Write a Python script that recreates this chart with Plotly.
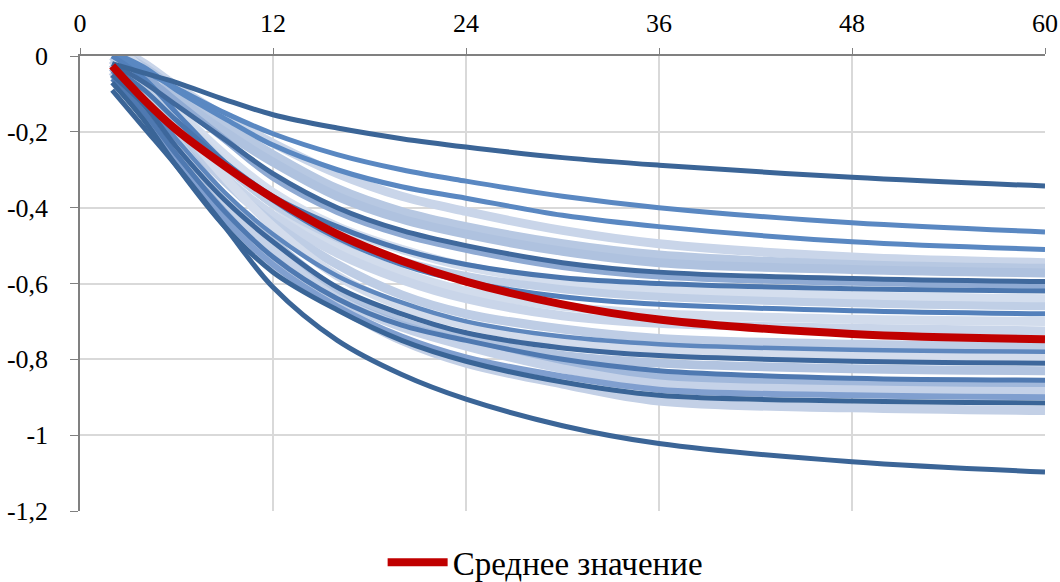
import plotly.graph_objects as go

# months
months = [2, 4, 6, 9, 12, 16, 20, 24, 30, 36, 48, 60]

# individual series
s01 = [-0.02, -0.045, -0.07, -0.115, -0.155, -0.19, -0.218, -0.24, -0.268, -0.288, -0.32, -0.343]
s02 = [0.0, -0.04, -0.085, -0.15, -0.205, -0.26, -0.30, -0.33, -0.37, -0.40, -0.44, -0.464]
s03 = [0.01, -0.03, -0.09, -0.165, -0.235, -0.30, -0.345, -0.375, -0.42, -0.45, -0.49, -0.51]
s04 = [0.03, -0.02, -0.08, -0.16, -0.23, -0.31, -0.37, -0.41, -0.46, -0.495, -0.53, -0.545]
s05 = [0.02, -0.03, -0.09, -0.18, -0.26, -0.35, -0.41, -0.45, -0.495, -0.525, -0.55, -0.56]
s06 = [0.0, -0.05, -0.11, -0.20, -0.28, -0.37, -0.43, -0.47, -0.515, -0.545, -0.563, -0.572]
s07 = [-0.02, -0.07, -0.13, -0.22, -0.31, -0.40, -0.46, -0.50, -0.545, -0.57, -0.587, -0.595]
s08 = [0.01, -0.05, -0.12, -0.22, -0.32, -0.41, -0.47, -0.51, -0.555, -0.58, -0.597, -0.605]
s09 = [-0.03, -0.09, -0.17, -0.28, -0.37, -0.45, -0.51, -0.55, -0.585, -0.60, -0.614, -0.62]
s10 = [0.02, -0.05, -0.14, -0.26, -0.36, -0.45, -0.51, -0.555, -0.595, -0.615, -0.632, -0.64]
s11 = [-0.01, -0.08, -0.17, -0.29, -0.39, -0.48, -0.54, -0.58, -0.615, -0.635, -0.652, -0.66]
s12 = [0.0, -0.06, -0.15, -0.28, -0.38, -0.48, -0.55, -0.595, -0.635, -0.655, -0.672, -0.68]
s13 = [0.03, -0.04, -0.14, -0.28, -0.39, -0.50, -0.57, -0.62, -0.66, -0.68, -0.694, -0.70]
s14 = [-0.01, -0.09, -0.19, -0.32, -0.42, -0.52, -0.59, -0.64, -0.685, -0.705, -0.718, -0.725]
s15 = [0.0, -0.08, -0.19, -0.33, -0.44, -0.55, -0.63, -0.68, -0.72, -0.745, -0.76, -0.765]
s16 = [-0.04, -0.12, -0.22, -0.36, -0.47, -0.58, -0.65, -0.70, -0.74, -0.76, -0.775, -0.78]
s17 = [-0.05, -0.13, -0.24, -0.38, -0.49, -0.61, -0.68, -0.73, -0.77, -0.79, -0.805, -0.81]
s18 = [0.02, -0.06, -0.17, -0.32, -0.45, -0.58, -0.66, -0.71, -0.755, -0.775, -0.79, -0.795]
s19 = [-0.02, -0.11, -0.22, -0.37, -0.49, -0.62, -0.70, -0.745, -0.79, -0.81, -0.825, -0.83]
s20 = [-0.06, -0.15, -0.26, -0.41, -0.53, -0.64, -0.71, -0.75, -0.80, -0.83, -0.85, -0.855]
s21 = [-0.03, -0.12, -0.24, -0.40, -0.52, -0.64, -0.71, -0.755, -0.81, -0.845, -0.862, -0.868]
s22 = [-0.01, -0.10, -0.22, -0.38, -0.51, -0.64, -0.715, -0.765, -0.825, -0.865, -0.88, -0.885]
s23 = [-0.05, -0.15, -0.27, -0.43, -0.55, -0.66, -0.74, -0.795, -0.845, -0.88, -0.895, -0.90]
s24 = [-0.07, -0.17, -0.29, -0.45, -0.57, -0.67, -0.75, -0.805, -0.86, -0.895, -0.91, -0.915]
s25 = [-0.04, -0.14, -0.26, -0.42, -0.55, -0.66, -0.75, -0.81, -0.865, -0.91, -0.928, -0.935]
s26 = [-0.09, -0.19, -0.29, -0.45, -0.61, -0.75, -0.84, -0.905, -0.975, -1.022, -1.07, -1.097]

mean_values = [-0.026, -0.116, -0.195, -0.29, -0.375, -0.47, -0.54, -0.595, -0.655, -0.695, -0.733, -0.747]
mean_name = "Среднее значение"

x_ticks = [0, 12, 24, 36, 48, 60]
y_ticks = [0, -0.2, -0.4, -0.6, -0.8, -1.0, -1.2]
y_ticklabels = ["0", "-0,2", "-0,4", "-0,6", "-0,8", "-1", "-1,2"]

# drawing order, colour and width per series (style only)
styles = [
    (s04, "#C9D5E9", 9), (s05, "#B7C8E2", 9), (s06, "#AFC2DF", 9),
    (s10, "#D4DEEE", 9), (s13, "#D2DCEC", 9), (s14, "#C9D5E9", 9),
    (s15, "#BECDE5", 9), (s18, "#D3DCEC", 9), (s19, "#B2C4E0", 9),
    (s21, "#A1B8DB", 9), (s22, "#C5D2E8", 9), (s25, "#C3D0E6", 9),
    (s08, "#8FAAD3", 7), (s11, "#C0CFE6", 8), (s23, "#809FCF", 6),
    (s02, "#5A88C2", 5), (s03, "#5A88C2", 5), (s12, "#5380BB", 5),
    (s16, "#5E87BE", 4.5), (s09, "#4B76AE", 5), (s20, "#4F79B1", 5),
    (s07, "#40699D", 5), (s17, "#3D679C", 5), (s24, "#3A6597", 5),
    (s01, "#3B6597", 5), (s26, "#3B6597", 5),
]

fig = go.Figure()
for vals, col, w in styles:
    fig.add_trace(go.Scatter(
        x=months, y=vals, mode="lines",
        line=dict(color=col, width=w, shape="spline", smoothing=1.0),
        showlegend=False, hoverinfo="skip",
    ))

fig.add_trace(go.Scatter(
    x=months, y=mean_values, mode="lines", name=mean_name,
    line=dict(color="#C00000", width=8, shape="spline", smoothing=1.0),
))

font_family = "Liberation Serif"
fig.update_layout(
    width=1060, height=582,
    margin=dict(l=80, r=15, t=56, b=71, autoexpand=False),
    paper_bgcolor="white", plot_bgcolor="white",
    font=dict(family=font_family, size=26, color="black"),
    showlegend=True,
    legend=dict(orientation="h", x=0.482, xanchor="center", y=-0.113, yanchor="middle",
                itemwidth=60, font=dict(size=33, family=font_family, color="black")),
    xaxis=dict(side="top", range=[0, 60], tickvals=x_ticks, showgrid=True,
               gridcolor="#D9D9D9", gridwidth=1.5, showline=True, linecolor="#808080",
               linewidth=1.5, ticks="outside", ticklen=6, tickcolor="#808080",
               zeroline=False, ticklabelstandoff=6, automargin=False,
               tickfont=dict(size=26, family=font_family, color="black")),
    yaxis=dict(range=[-1.2, 0], tickvals=y_ticks, ticktext=y_ticklabels, showgrid=True,
               gridcolor="#D9D9D9", gridwidth=1.5, showline=True, linecolor="#808080",
               linewidth=1.5, ticks="outside", ticklen=8, tickcolor="#808080",
               zeroline=False, ticklabelstandoff=17, automargin=False,
               tickfont=dict(size=26, family=font_family, color="black")),
)

fig.write_html("out.html", post_script="document.body.style.margin='0';",
               config={"displayModeBar": False})
